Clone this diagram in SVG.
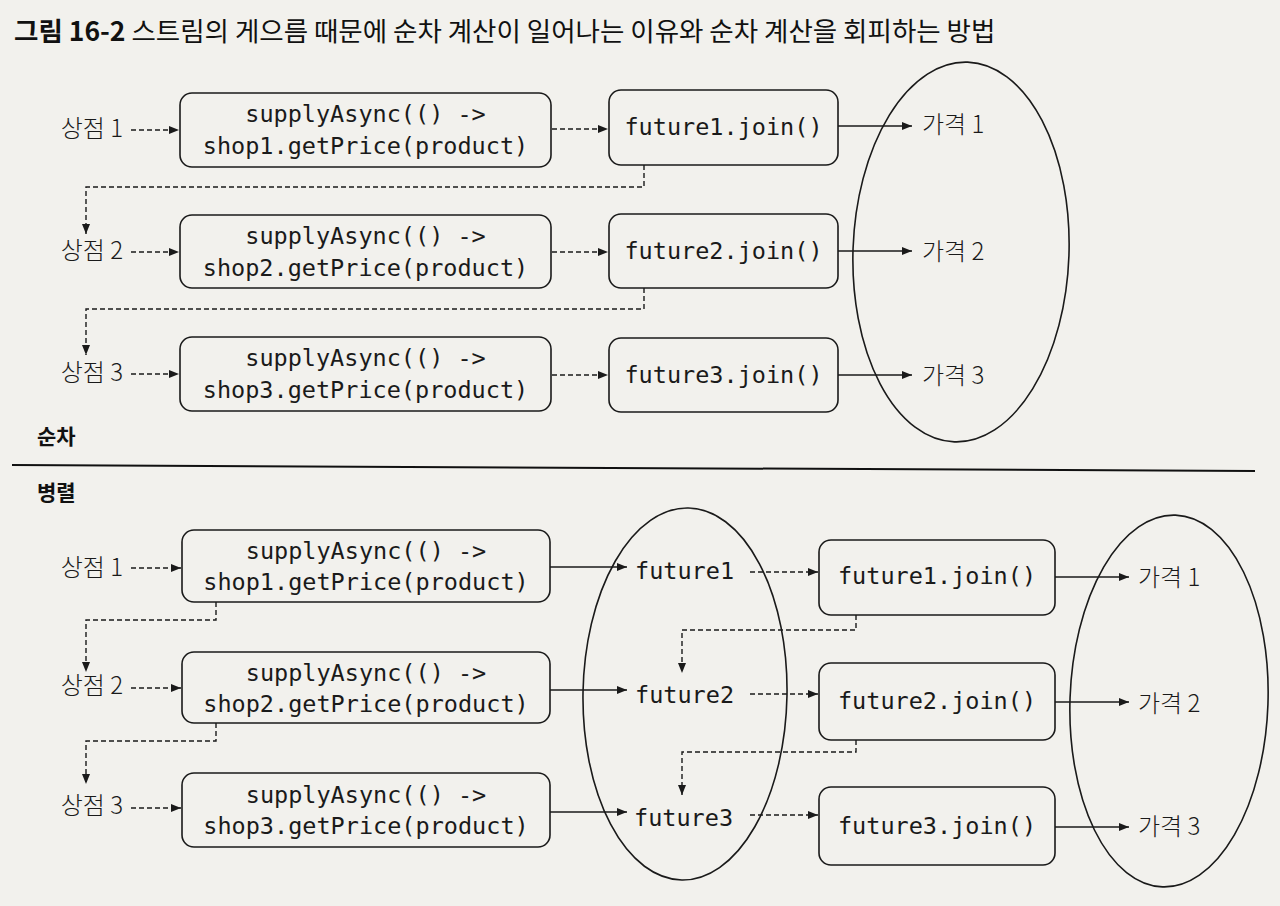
<svg xmlns="http://www.w3.org/2000/svg" width="1280" height="906" viewBox="0 0 1280 906">
<defs>
<style>
.bg{fill:#f2f1ed}
.box{fill:none;stroke:#1a1a1a;stroke-width:1.6}
.ell{fill:none;stroke:#1a1a1a;stroke-width:1.6}
.code{font-family:"DejaVu Sans Mono","Liberation Mono",monospace;font-size:23.5px;fill:#1a1a1a}
.kr{font-family:"Noto Sans CJK KR","Noto Sans",sans-serif;font-size:24px;font-weight:300;fill:#1a1a1a}
.title{font-family:"Noto Sans CJK KR","Noto Sans",sans-serif;font-size:26.5px;fill:#111}
.sec{font-family:"Noto Sans CJK KR","Noto Sans",sans-serif;font-size:21px;font-weight:bold;fill:#111}
.dash{fill:none;stroke:#1a1a1a;stroke-width:1.4;stroke-dasharray:5 3;marker-end:url(#ah)}
.solid{fill:none;stroke:#1a1a1a;stroke-width:1.5;marker-end:url(#ah)}
</style>
<marker id="ah" viewBox="0 0 10 8" refX="10" refY="4" markerWidth="11" markerHeight="8" markerUnits="userSpaceOnUse" orient="auto">
<path d="M0,0 L10,4 L0,8 z" fill="#1a1a1a"/>
</marker>
</defs>
<rect class="bg" x="0" y="0" width="1280" height="906"/>

<text class="title" x="14" y="41"><tspan font-weight="bold">그림 16-2</tspan> 스트림의 게으름 때문에 순차 계산이 일어나는 이유와 순차 계산을 회피하는 방법</text>

<g id="section-labels">
<text class="sec" x="37" y="444">순차</text>
<line x1="12" y1="465" x2="1255" y2="471" stroke="#111" stroke-width="2"/>
<text class="sec" x="37" y="500">병렬</text>
</g>

<!-- sequential section -->
<g id="seq-shops">
<text class="kr" x="123" y="137" text-anchor="end">상점 1</text>
<text class="kr" x="123" y="259" text-anchor="end">상점 2</text>
<text class="kr" x="123" y="381" text-anchor="end">상점 3</text>
</g>
<g id="seq-supply1">
<rect class="box" x="180" y="93" width="371" height="74" rx="12"/>
<text class="code" x="365.5" y="122" text-anchor="middle">supplyAsync(() -&gt;</text>
<text class="code" x="365.5" y="154" text-anchor="middle">shop1.getPrice(product)</text>
</g>
<g id="seq-supply2">
<rect class="box" x="180" y="215" width="371" height="73" rx="12"/>
<text class="code" x="365.5" y="244" text-anchor="middle">supplyAsync(() -&gt;</text>
<text class="code" x="365.5" y="276" text-anchor="middle">shop2.getPrice(product)</text>
</g>
<g id="seq-supply3">
<rect class="box" x="180" y="337" width="371" height="74" rx="12"/>
<text class="code" x="365.5" y="366" text-anchor="middle">supplyAsync(() -&gt;</text>
<text class="code" x="365.5" y="398" text-anchor="middle">shop3.getPrice(product)</text>
</g>
<g id="seq-join1">
<rect class="box" x="609" y="90" width="229" height="75" rx="12"/>
<text class="code" x="723.5" y="135" text-anchor="middle">future1.join()</text>
</g>
<g id="seq-join2">
<rect class="box" x="609" y="214" width="229" height="74" rx="12"/>
<text class="code" x="723.5" y="259" text-anchor="middle">future2.join()</text>
</g>
<g id="seq-join3">
<rect class="box" x="609" y="338" width="229" height="74" rx="12"/>
<text class="code" x="723.5" y="383" text-anchor="middle">future3.join()</text>
</g>
<g id="seq-prices">
<ellipse class="ell" cx="961" cy="252" rx="108" ry="190" transform="rotate(2 961 252)"/>
<text class="kr" x="922" y="133">가격 1</text>
<text class="kr" x="922" y="260">가격 2</text>
<text class="kr" x="922" y="384">가격 3</text>
</g>

<!-- parallel section -->
<g id="par-shops">
<text class="kr" x="123" y="576" text-anchor="end">상점 1</text>
<text class="kr" x="123" y="694" text-anchor="end">상점 2</text>
<text class="kr" x="123" y="814" text-anchor="end">상점 3</text>
</g>
<g id="par-supply1">
<rect class="box" x="182" y="530" width="368" height="72" rx="12"/>
<text class="code" x="366" y="559" text-anchor="middle">supplyAsync(() -&gt;</text>
<text class="code" x="366" y="590" text-anchor="middle">shop1.getPrice(product)</text>
</g>
<g id="par-supply2">
<rect class="box" x="182" y="652" width="368" height="71" rx="12"/>
<text class="code" x="366" y="681" text-anchor="middle">supplyAsync(() -&gt;</text>
<text class="code" x="366" y="712" text-anchor="middle">shop2.getPrice(product)</text>
</g>
<g id="par-supply3">
<rect class="box" x="182" y="773" width="368" height="74" rx="12"/>
<text class="code" x="366" y="803" text-anchor="middle">supplyAsync(() -&gt;</text>
<text class="code" x="366" y="834" text-anchor="middle">shop3.getPrice(product)</text>
</g>
<g id="par-futures">
<ellipse class="ell" cx="685" cy="694" rx="102" ry="186" transform="rotate(1 685 694)"/>
<text class="code" x="635" y="579">future1</text>
<text class="code" x="635" y="703">future2</text>
<text class="code" x="634" y="826">future3</text>
</g>
<g id="par-join1">
<rect class="box" x="819" y="540" width="236" height="75" rx="12"/>
<text class="code" x="937" y="584" text-anchor="middle">future1.join()</text>
</g>
<g id="par-join2">
<rect class="box" x="819" y="663" width="236" height="77" rx="12"/>
<text class="code" x="937" y="709" text-anchor="middle">future2.join()</text>
</g>
<g id="par-join3">
<rect class="box" x="819" y="787" width="236" height="78" rx="12"/>
<text class="code" x="937" y="834" text-anchor="middle">future3.join()</text>
</g>
<g id="par-prices">
<ellipse class="ell" cx="1169" cy="701" rx="99" ry="186" transform="rotate(2 1169 701)"/>
<text class="kr" x="1138" y="586">가격 1</text>
<text class="kr" x="1138" y="712">가격 2</text>
<text class="kr" x="1138" y="835">가격 3</text>
</g>

<g id="connectors">
<!-- sequential -->
<path class="dash" d="M131,130 H179"/>
<path class="dash" d="M131,252 H179"/>
<path class="dash" d="M131,374 H179"/>
<path class="dash" d="M552,129 H608"/>
<path class="dash" d="M552,252 H608"/>
<path class="dash" d="M552,375 H608"/>
<path class="dash" d="M644,165 V187 H86 V234"/>
<path class="dash" d="M644,288 V309 H86 V355"/>
<path class="solid" d="M838,126 H912"/>
<path class="solid" d="M838,251 H912"/>
<path class="solid" d="M838,375 H912"/>
<!-- parallel -->
<path class="dash" d="M131,568 H181"/>
<path class="dash" d="M131,688 H181"/>
<path class="dash" d="M131,808 H181"/>
<path class="dash" d="M216,602 V620 H86 V672"/>
<path class="dash" d="M216,723 V741 H86 V784"/>
<path class="solid" d="M550,567 H627"/>
<path class="solid" d="M550,690 H627"/>
<path class="solid" d="M550,812 H627"/>
<path class="dash" d="M750,572 H818"/>
<path class="dash" d="M750,694 H818"/>
<path class="dash" d="M750,815 H818"/>
<path class="dash" d="M856,615 V630 H682 V673"/>
<path class="dash" d="M856,740 V752 H682 V795"/>
<path class="solid" d="M1055,577 H1129"/>
<path class="solid" d="M1055,702 H1129"/>
<path class="solid" d="M1055,827 H1129"/>
</g>
</svg>
